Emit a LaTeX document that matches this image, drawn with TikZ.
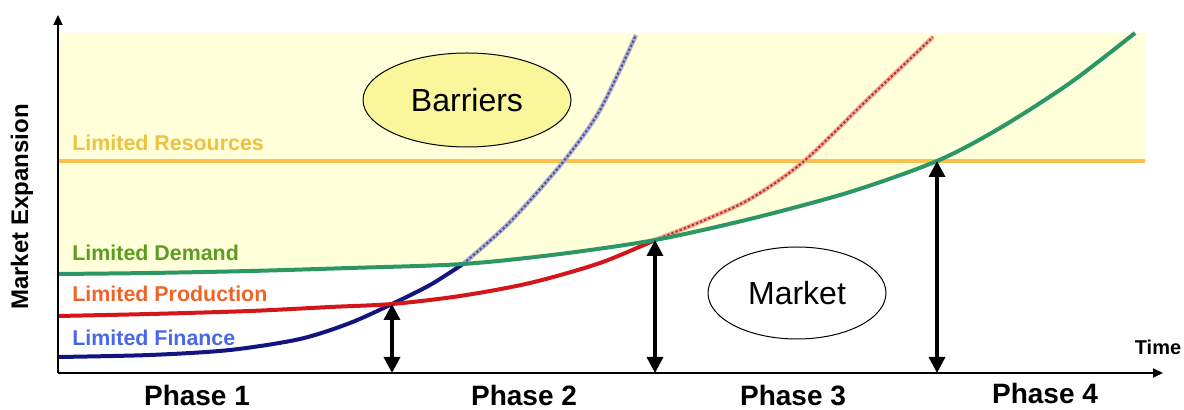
\documentclass[tikz,border=0pt]{standalone}
\usepackage{fontspec}
\setmainfont{Liberation Sans}
\usetikzlibrary{arrows.meta,shapes.geometric}
\definecolor{bgyellow}{RGB}{255,255,218}
\definecolor{resorange}{RGB}{250,192,78}
\definecolor{demgreen}{RGB}{44,150,100}
\definecolor{prodred}{RGB}{212,22,26}
\definecolor{finblue}{RGB}{20,20,128}
\definecolor{finlight}{RGB}{176,178,200}
\definecolor{prodlight}{RGB}{240,170,150}
\definecolor{prodpale}{RGB}{190,48,40}
\definecolor{txtres}{RGB}{240,192,64}
\definecolor{txtdem}{RGB}{92,156,32}
\definecolor{txtprod}{RGB}{238,100,40}
\definecolor{txtfin}{RGB}{72,104,236}
\definecolor{barfill}{RGB}{250,246,156}
\begin{document}
\begin{tikzpicture}[x=0.5pt,y=-0.5pt]
\tikzset{axis/.style={line width=1pt,-{Triangle[length=5pt,width=4.5pt]}},
  bound/.style={{Triangle[length=8pt,width=8pt]}-{Triangle[length=8pt,width=8pt]},line width=1.7pt},
  curve/.style={line width=2pt},
  finhatch/.style={draw=finlight,line width=2.2pt,postaction={draw=finblue!75,line width=1pt,dash pattern=on 1.2pt off 1pt}},
  prodhatch/.style={draw=prodlight,line width=2.2pt,postaction={draw=prodpale,line width=1pt,dash pattern=on 1.2pt off 1pt}},
  limit/.style={anchor=west,inner sep=0pt,font=\bfseries\fontsize{10.7}{12}\selectfont},
  phase/.style={font=\bfseries\fontsize{14}{16}\selectfont},
  bubble/.style={ellipse,draw,line width=0.5pt,inner sep=0pt,font=\fontsize{16}{18}\selectfont}}
\useasboundingbox (0,0) rectangle (1184,410);
\fill[bgyellow] (58,33) rectangle (1145,161);
\fill[bgyellow] plot[smooth] coordinates {(58,274) (150,273) (250,271) (350,268) (463,264) (560,254) (655,240) (750,219) (850,192) (937,161) (1000,128) (1070,83) (1135,33)} -- (58,33) -- cycle;
\draw[resorange,line width=2pt] (58,161) -- (1145,161);
\draw[finhatch] plot[smooth] coordinates {(463,264) (510,222) (563,162) (600,110) (636,35)};
\draw[prodhatch] plot[smooth] coordinates {(655,240) (700,222) (750,199) (803,162) (868,99) (933,37)};
\draw[curve,finblue] plot[smooth] coordinates {(58,357) (150,355) (230,350) (300,339) (350,323) (392,304) (430,285) (463,264)};
\draw[curve,prodred] plot[smooth] coordinates {(58,316) (150,314) (250,311) (330,307) (392,304) (460,296) (530,283) (600,263) (655,240)};
\draw[curve,demgreen] plot[smooth] coordinates {(58,274) (150,273) (250,271) (350,268) (463,264) (560,254) (655,240) (750,219) (850,192) (937,161) (1000,128) (1070,83) (1135,33)};
\coordinate (origin) at (58,373);
\coordinate (ytop) at (58,15);
\coordinate (xend) at (1163,373);
\coordinate (finprod) at (392,304);
\coordinate (proddem) at (655,240);
\coordinate (demres) at (937,161);
\draw[bound] (finprod) -- (finprod |- origin);
\draw[bound] (proddem) -- (proddem |- origin);
\draw[bound] (demres) -- (demres |- origin);
\draw[axis] (origin) -- (xend);
\draw[axis] (origin) -- (ytop);
\node[bubble,fill=barfill,minimum width=104pt,minimum height=47pt] (barriers) at (467,100) {Barriers};
\node[bubble,fill=white,minimum width=89pt,minimum height=46pt] (market) at (797,293) {Market};
\node[limit,txtres] (resources) at (72,143) {Limited Resources};
\node[limit,txtdem] (demand) at (72,253) {Limited Demand};
\node[limit,txtprod] (production) at (72,294) {Limited Production};
\node[limit,txtfin] (finance) at (72,338) {Limited Finance};
\node[rotate=90,font=\bfseries\fontsize{12}{14}\selectfont] (ylabel) at (22,207) {Market Expansion};
\node[font=\bfseries\fontsize{10}{12}\selectfont] (time) at (1158,347) {Time};
\node[phase] (phaseone) at (197,395) {Phase 1};
\node[phase] (phasetwo) at (524,395) {Phase 2};
\node[phase] (phasethree) at (793,396) {Phase 3};
\node[phase] (phasefour) at (1045,393) {Phase 4};
\end{tikzpicture}
\end{document}
